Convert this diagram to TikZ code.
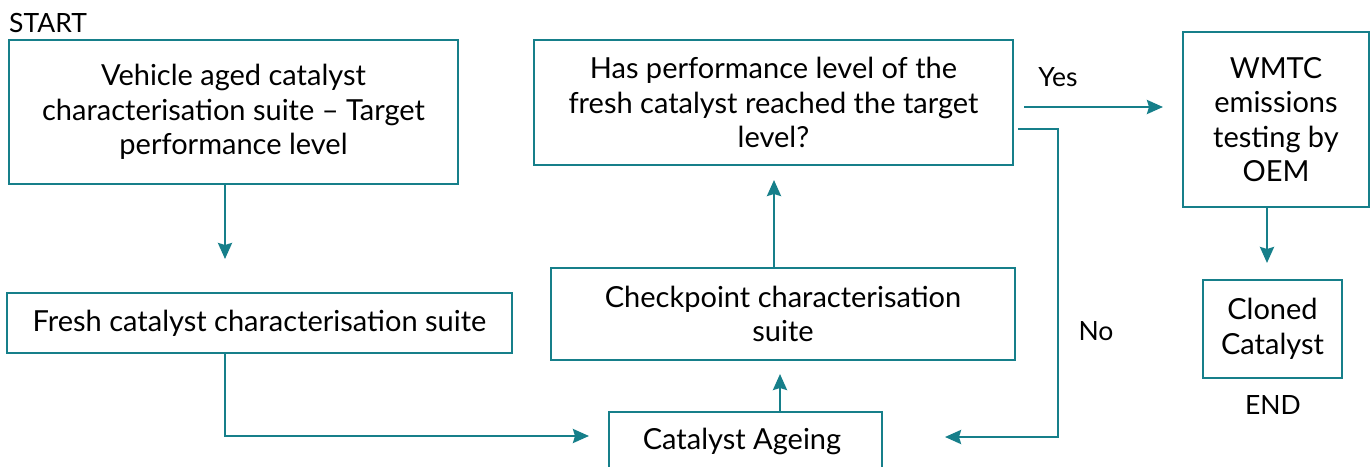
\documentclass[tikz,border=0pt]{standalone}
\usepackage{fontspec}
\setmainfont{Lato}
\usetikzlibrary{arrows.meta}
\definecolor{teal1}{HTML}{167F8A}
\begin{document}
\begin{tikzpicture}[x=1pt,y=-1pt,
  box/.style={draw=teal1,line width=2.6pt,align=center,inner sep=0pt,font=\fontsize{29}{34.5}\selectfont},
  lbl/.style={font=\fontsize{26.5}{30}\selectfont,inner sep=0pt},
  conn/.style={draw=teal1,line width=2.6pt},
  arr/.style={conn,-{Stealth[length=16pt,width=14pt,inset=2pt]}}]
\useasboundingbox (0,0) rectangle (1371,466);
\begin{scope}
\clip (0,0) rectangle (1371,466);
\node[box,minimum width=449pt,minimum height=144pt] (veh) at (233.5,112) {Vehicle aged catalyst\\characterisation suite -- Target\\performance level};
\node[box,minimum width=505pt,minimum height=60pt] (fresh) at (259.5,323) {Fresh catalyst characterisation suite};
\node[box,minimum width=273pt,minimum height=80pt] (age) at (745.5,452) {};
\node[font=\fontsize{29}{34.5}\selectfont,inner sep=0pt] (agetxt) at (742,441) {Catalyst Ageing};
\node[box,minimum width=464pt,minimum height=92pt] (check) at (783,314) {Checkpoint characterisation\\suite};
\node[box,minimum width=479pt,minimum height=125pt] (q) at (773.5,102.5) {Has performance level of the\\fresh catalyst reached the target\\level?};
\node[box,minimum width=186pt,minimum height=175pt] (wmtc) at (1276,119.5) {WMTC\\emissions\\testing by\\OEM};
\node[box,minimum width=139pt,minimum height=98pt] (clone) at (1272.5,329) {Cloned\\Catalyst};
\end{scope}
\node[lbl,anchor=west] (start) at (9,23) {START};
\node[lbl] (endl) at (1273,405) {END};
\node[lbl] (yes) at (1058,77) {Yes};
\node[lbl] (no) at (1096,331) {No};
\coordinate (a1) at (225,259);
\coordinate (f1) at (225,436);
\coordinate (f2) at (589,436);
\coordinate (y1) at (1024,107);
\coordinate (y2) at (1163,107);
\coordinate (n1) at (1018,129);
\coordinate (n2) at (1058,129);
\coordinate (n3) at (1058,437);
\coordinate (n4) at (945,437);
\coordinate (w1) at (1267,263);
\coordinate (c1) at (780,374);
\coordinate (q1) at (774,180);
\draw[arr] (veh.south -| a1) -- (a1);
\draw[arr] (fresh.south -| f1) -- (f1) -- (f2);
\draw[arr] (age.north -| c1) -- (c1);
\draw[arr] (check.north -| q1) -- (q1);
\draw[arr] (y1) -- (y2);
\draw[arr] (n1) -- (n2) -- (n3) -- (n4);
\draw[arr] (wmtc.south -| w1) -- (w1);
\end{tikzpicture}
\end{document}
